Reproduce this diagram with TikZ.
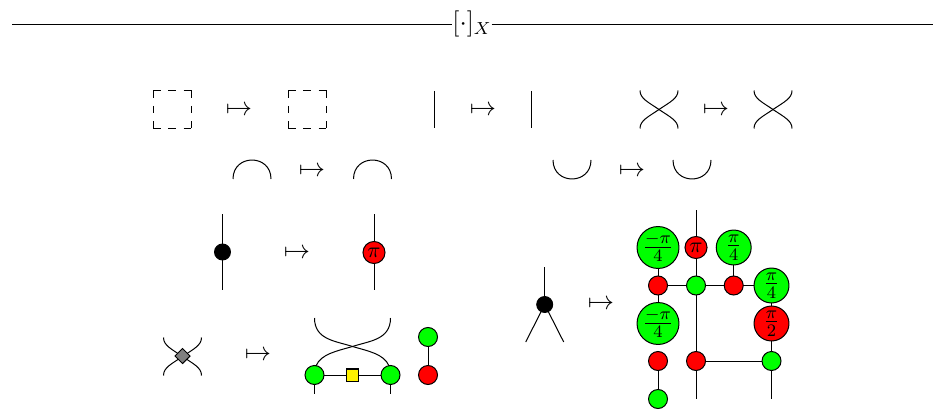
\documentclass[tikz,border=0pt,12pt]{standalone}
\usetikzlibrary{shapes.geometric}
\definecolor{zgreen}{RGB}{0,255,0}
\definecolor{zred}{RGB}{255,0,0}
\tikzset{
  wire/.style={draw=black,line width=0.46pt},
  spider/.style={circle,draw=black,line width=0.46pt,inner sep=0pt,outer sep=0pt},
  gs/.style={spider,fill=zgreen,minimum size=8.7pt},
  rs/.style={spider,fill=zred,minimum size=8.7pt},
  gsmid/.style={spider,fill=zgreen,minimum size=16pt,font=\small},
  rsmid/.style={spider,fill=zred,minimum size=16pt,font=\small},
  gsbig/.style={spider,fill=zgreen,minimum size=18.3pt,font=\small},
  rpi/.style={spider,fill=zred,minimum size=10.1pt,font=\footnotesize},
  blackdot/.style={spider,fill=black,minimum size=7.3pt},
  graybox/.style={diamond,draw=black,fill=gray,line width=0.46pt,inner sep=0pt,outer sep=0pt,minimum size=6.9pt},
  yellowbox/.style={rectangle,draw=black,fill=yellow,line width=0.46pt,inner sep=0pt,outer sep=0pt,minimum size=5.5pt},
  titlenode/.style={inner sep=0pt,outer sep=0pt},
  mapnode/.style={inner sep=0pt,outer sep=0pt,yshift=-0.9pt},
  dashside/.style={wire,dash pattern=on 3.5pt off 3.5pt},
  dashbox/.pic={
    \coordinate (-a) at (-19,-19); \coordinate (-b) at (19,-19);
    \coordinate (-c) at (19,19); \coordinate (-d) at (-19,19);
    \draw[dashside] (-a) -- (-b);
    \draw[dashside] (-b) -- (-c);
    \draw[dashside] (-d) -- (-c);
    \draw[dashside] (-a) -- (-d);
  },
  crosspic/.pic={
    \coordinate (-c) at (0,0);
    \coordinate (-tl) at (-19,-19); \coordinate (-tr) at (19,-19);
    \coordinate (-bl) at (-19,19); \coordinate (-br) at (19,19);
    \draw[wire] (-tl) .. controls (-19,-11) and (-11,-7.5) .. (-c) .. controls (11,7.5) and (19,11) .. (-br);
    \draw[wire] (-tr) .. controls (19,-11) and (11,-7.5) .. (-c) .. controls (-11,7.5) and (-19,11) .. (-bl);
  },
  cappic/.pic={
    \coordinate (-l) at (-19,0); \coordinate (-r) at (19,0);
    \draw[wire] (-l) .. controls (-19,-25.3) and (19,-25.3) .. (-r);
  },
  cuppic/.pic={
    \coordinate (-l) at (-19,0); \coordinate (-r) at (19,0);
    \draw[wire] (-l) .. controls (-19,25.3) and (19,25.3) .. (-r);
  }
}
\begin{document}
\begin{tikzpicture}[x=0.458pt,y=-0.458pt]
\useasboundingbox (0,0) rectangle (940,411);
% title
\node[titlenode] (title) at (472,24) {$[\cdot]_X$};
\coordinate (ruleL) at (12,24.5);
\coordinate (ruleR) at (933,24.5);
\draw[wire] (ruleL) -- (title.west |- ruleL);
\draw[wire] (title.east |- ruleR) -- (ruleR);
% row 1
\pic (boxA) at (172,109.5) {dashbox};
\node[mapnode] (m1) at (239,109) {$\mapsto$};
\pic (boxB) at (307,109.5) {dashbox};
\coordinate (lineAt) at (434.5,91); \coordinate (lineAb) at (434.5,128);
\draw[wire] (lineAt) -- (lineAb);
\node[mapnode] (m2) at (483,109) {$\mapsto$};
\coordinate (lineBt) at (531.5,91); \coordinate (lineBb) at (531.5,128);
\draw[wire] (lineBt) -- (lineBb);
\pic (crA) at (659,109.5) {crosspic};
\node[mapnode] (m3) at (716,108.5) {$\mapsto$};
\pic (crB) at (773,109.5) {crosspic};
% row 2
\pic (capA) at (252,179) {cappic};
\node[mapnode] (m4) at (312,170) {$\mapsto$};
\pic (capB) at (372.5,179) {cappic};
\pic (cupA) at (572,160) {cuppic};
\node[mapnode] (m5) at (632,170) {$\mapsto$};
\pic (cupB) at (692,160) {cuppic};
% row 3 left
\coordinate (dt) at (222.5,214); \coordinate (db) at (222.5,290);
\node[blackdot] (dot) at (222.5,252) {};
\draw[wire] (dt) -- (dot); \draw[wire] (dot) -- (db);
\node[mapnode] (m6) at (297,252) {$\mapsto$};
\coordinate (pt) at (374,214); \coordinate (pb) at (374,290);
\node[rpi] (pin) at (374,252.5) {$\pi$};
\draw[wire] (pt) -- (pin); \draw[wire] (pin) -- (pb);
% Y spider
\coordinate (yt) at (544.7,267); \coordinate (yl) at (525.7,342); \coordinate (yr) at (563.7,342);
\node[blackdot] (ydot) at (544.7,304.5) {};
\draw[wire] (yt) -- (ydot); \draw[wire] (ydot) -- (yl); \draw[wire] (ydot) -- (yr);
\node[mapnode] (m7) at (601,303) {$\mapsto$};
% big circuit
\node[gsbig] (a1) at (658,247.5) {$\frac{-\pi}{4}$};
\node[rpi] (a2) at (696,247.5) {$\pi$};
\node[gsmid] (a3) at (733.7,247.5) {$\frac{\pi}{4}$};
\node[rs] (b1) at (658,285.5) {};
\node[gs] (b2) at (696,285.5) {};
\node[rs] (b3) at (733.7,285.5) {};
\node[gsmid] (b4) at (771.5,285.5) {$\frac{\pi}{4}$};
\node[gsbig] (c1) at (658,323.5) {$\frac{-\pi}{4}$};
\node[rsmid] (c4) at (771.5,323.5) {$\frac{\pi}{2}$};
\node[rs] (d1) at (658,361) {};
\node[rs] (d2) at (696,361) {};
\node[gs] (d4) at (771.5,361) {};
\node[gs] (e1) at (658,399) {};
\coordinate (t2) at (696,210); \coordinate (e2) at (696,399); \coordinate (e4) at (771.5,399);
\draw[wire] (t2) -- (a2); \draw[wire] (a2) -- (b2); \draw[wire] (b2) -- (d2); \draw[wire] (d2) -- (e2);
\draw[wire] (a1) -- (b1); \draw[wire] (b1) -- (c1);
\draw[wire] (a3) -- (b3);
\draw[wire] (b1) -- (b2); \draw[wire] (b2) -- (b3); \draw[wire] (b3) -- (b4);
\draw[wire] (b4) -- (c4); \draw[wire] (c4) -- (d4); \draw[wire] (d4) -- (e4);
\draw[wire] (d2) -- (d4);
\draw[wire] (d1) -- (e1);
% row 4
\pic (crC) at (182.5,356.5) {crosspic};
\node[graybox] (dia) at (182.5,356) {};
\node[mapnode] (m8) at (258,354) {$\mapsto$};
\coordinate (xc) at (352.5,346.5);
\coordinate (xtl) at (314.5,318); \coordinate (xtr) at (390.5,318);
\coordinate (sl) at (314.5,394); \coordinate (sr) at (390.5,394);
\node[gs] (gl) at (314.5,375) {};
\node[gs] (gr) at (390.5,375) {};
\node[yellowbox] (yb) at (352.5,375) {};
\draw[wire] (xtl) .. controls (314.5,340) and (336,341) .. (xc) .. controls (368,351) and (384,354) .. (gr.100);
\draw[wire] (xtr) .. controls (390.5,340) and (369,341) .. (xc) .. controls (337,351) and (321,354) .. (gl.80);
\draw[wire] (gl) -- (yb); \draw[wire] (yb) -- (gr);
\draw[wire] (gl) -- (sl); \draw[wire] (gr) -- (sr);
\node[gs] (pg) at (428,337) {};
\node[rs] (pr) at (428,375) {};
\draw[wire] (pg) -- (pr);
\end{tikzpicture}
\end{document}
